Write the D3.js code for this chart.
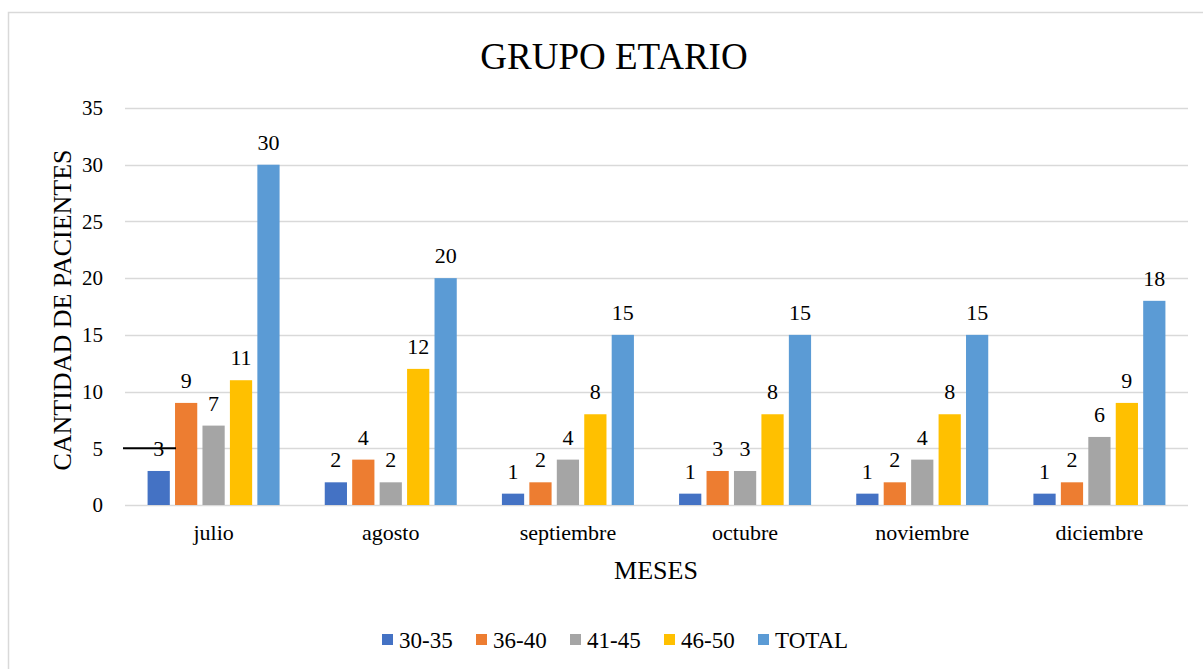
<!DOCTYPE html>
<html>
<head>
<meta charset="utf-8">
<script src="https://cdn.jsdelivr.net/npm/d3@7"></script>
<style>
  body { margin: 0; background: #fff; }
</style>
</head>
<body>
<div id="chart"></div>
<script>
// data
const months = ["julio", "agosto", "septiembre", "octubre", "noviembre", "diciembre"];
const groups = ["30-35", "36-40", "41-45", "46-50", "TOTAL"];
const v3035 = [3, 2, 1, 1, 1, 1];
const v3640 = [9, 4, 2, 3, 2, 2];
const v4145 = [7, 2, 4, 3, 4, 6];
const v4650 = [11, 12, 8, 8, 8, 9];
const vTotal = [30, 20, 15, 15, 15, 18];
const yTicks = [0, 5, 10, 15, 20, 25, 30, 35];

const seriesVals = [v3035, v3640, v4145, v4650, vTotal];
const colors = ["#4472C4", "#ED7D31", "#A5A5A5", "#FFC000", "#5B9BD5"];
const FONT = '"Liberation Serif"';

const width = 1203, height = 669;
const margin = {top: 108, right: 15, bottom: 164, left: 125};
const innerW = 1188 - margin.left;
const innerH = 505 - margin.top;

const svg = d3.select("#chart").append("svg")
    .attr("width", width)
    .attr("height", height);

// outer frame
svg.append("rect")
    .attr("x", 8.5).attr("y", 12.5)
    .attr("width", 1200).attr("height", 670)
    .attr("fill", "none")
    .attr("stroke", "#d9d9d9")
    .attr("stroke-width", 1.5);

const g = svg.append("g")
    .attr("transform", `translate(${margin.left},${margin.top})`);

const x0 = d3.scaleBand()
    .domain(months)
    .range([0, innerW])
    .paddingInner(0)
    .paddingOuter(0);

const groupW = 132;
const x1 = d3.scaleBand()
    .domain(groups)
    .range([(x0.bandwidth() - groupW) / 2, (x0.bandwidth() + groupW) / 2])
    .paddingInner(0.19)
    .paddingOuter(0);

const y = d3.scaleLinear()
    .domain([0, 35])
    .range([innerH, 0]);

// grid lines
g.selectAll(".grid")
    .data(yTicks)
    .enter().append("line")
    .attr("class", "grid")
    .attr("x1", 0).attr("x2", innerW)
    .attr("y1", d => Math.round(y(d)) + 0.5)
    .attr("y2", d => Math.round(y(d)) + 0.5)
    .attr("stroke", "#d9d9d9")
    .attr("stroke-width", 1.5);

// y tick labels
g.selectAll(".ytick")
    .data(yTicks)
    .enter().append("text")
    .attr("class", "ytick")
    .attr("x", -22)
    .attr("y", d => y(d))
    .attr("dy", "0.35em")
    .attr("text-anchor", "end")
    .style("font-family", FONT)
    .style("font-size", "21px")
    .text(d => d);

// bars
const monthG = g.selectAll(".month")
    .data(months)
    .enter().append("g")
    .attr("class", "month")
    .attr("transform", d => `translate(${x0(d)},0)`);

const barData = (m, i) => groups.map((k, s) => ({key: k, s: s, value: seriesVals[s][i]}));

monthG.selectAll("rect")
    .data(barData)
    .enter().append("rect")
    .attr("x", d => x1(d.key))
    .attr("y", d => y(d.value))
    .attr("width", x1.bandwidth())
    .attr("height", d => innerH - y(d.value))
    .attr("fill", d => colors[d.s]);

monthG.selectAll(".lbl")
    .data(barData)
    .enter().append("text")
    .attr("class", "lbl")
    .attr("x", d => x1(d.key) + x1.bandwidth() / 2)
    .attr("y", d => y(d.value) - 15)
    .attr("text-anchor", "middle")
    .style("font-family", FONT)
    .style("font-size", "22px")
    .text(d => d.value);

// month labels
g.selectAll(".xlab")
    .data(months)
    .enter().append("text")
    .attr("class", "xlab")
    .attr("x", d => x0(d) + x0.bandwidth() / 2)
    .attr("y", innerH + 35)
    .attr("text-anchor", "middle")
    .style("font-family", FONT)
    .style("font-size", "22px")
    .text(d => d);

// stray black line near the 5 tick
g.append("line")
    .attr("x1", -2).attr("x2", 51)
    .attr("y1", y(5)).attr("y2", y(5))
    .attr("stroke", "#000")
    .attr("stroke-width", 2);

// title
svg.append("text")
    .attr("x", 614)
    .attr("y", 69)
    .attr("text-anchor", "middle")
    .style("font-family", FONT)
    .style("font-size", "37px")
    .text("GRUPO ETARIO");

// axis titles
svg.append("text")
    .attr("x", 656)
    .attr("y", 579)
    .attr("text-anchor", "middle")
    .style("font-family", FONT)
    .style("font-size", "26px")
    .text("MESES");

svg.append("text")
    .attr("transform", "translate(71,310) rotate(-90)")
    .attr("text-anchor", "middle")
    .style("font-family", FONT)
    .style("font-size", "26px")
    .text("CANTIDAD DE PACIENTES");

// legend
const legend = svg.selectAll(".legend")
    .data(groups)
    .enter().append("g")
    .attr("class", "legend")
    .attr("transform", (d, i) => `translate(${382 + i * 94},634)`);

legend.append("rect")
    .attr("width", 11)
    .attr("height", 11)
    .attr("fill", (d, i) => colors[i]);

legend.append("text")
    .attr("x", 17)
    .attr("y", 6)
    .attr("dy", "0.35em")
    .style("font-family", FONT)
    .style("font-size", "23px")
    .text(d => d);
</script>
</body>
</html>
